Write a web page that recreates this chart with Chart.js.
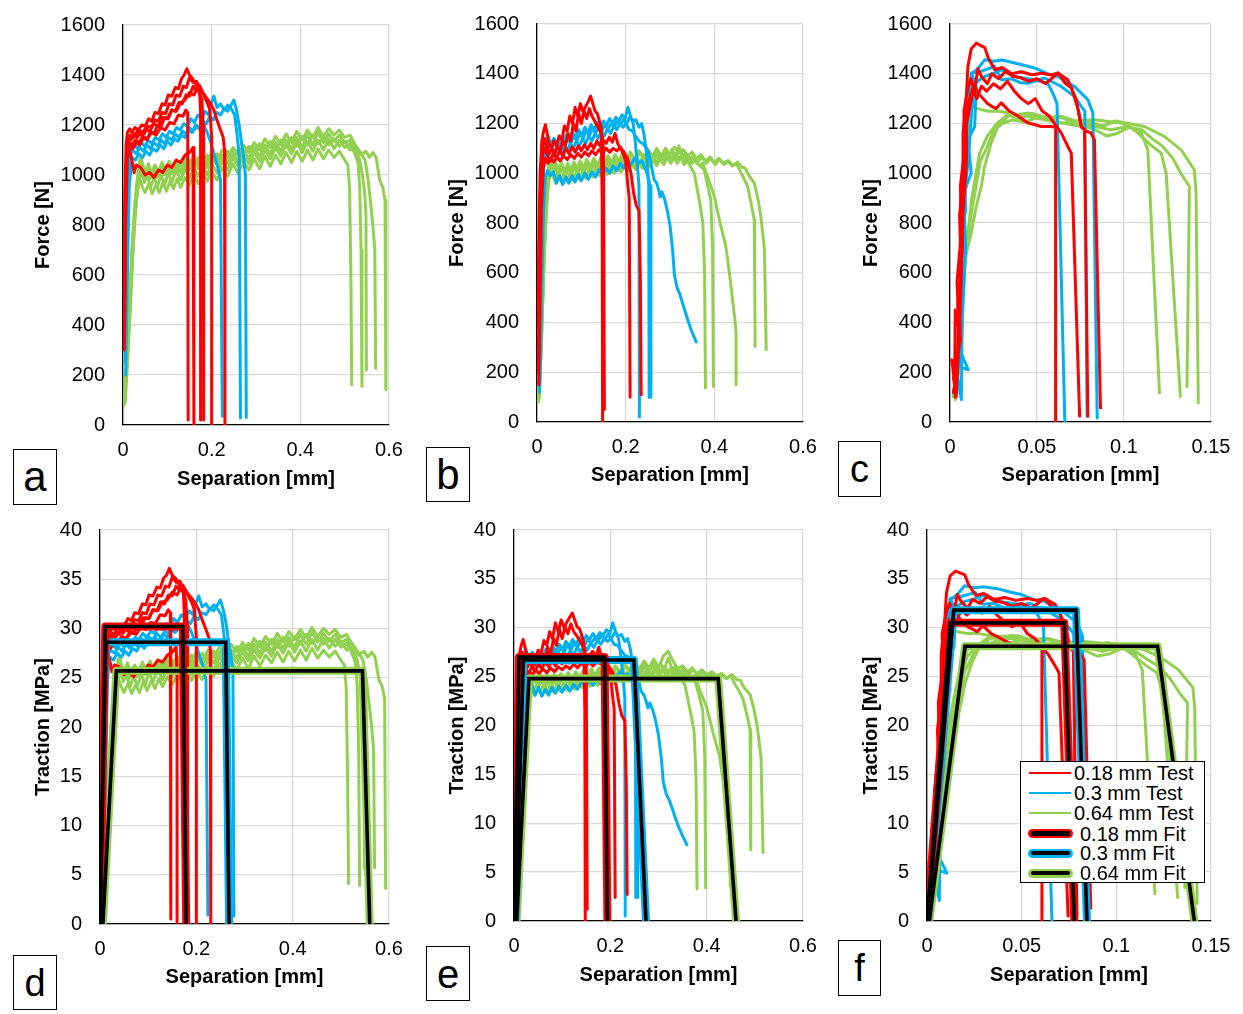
<!DOCTYPE html>
<html>
<head>
<meta charset="utf-8">
<script src="https://cdn.jsdelivr.net/npm/chart.js@4/dist/chart.umd.min.js"></script>
<style>
  html, body { margin: 0; padding: 0; background: #fff; }
  body { position: relative; width: 1243px; height: 1014px; overflow: hidden;
         font-family: "Liberation Sans", Arial, sans-serif; }
  canvas { position: absolute; }
  .tag { position: absolute; box-sizing: border-box; border: 1.3px solid #000; background: #fff;
         display: flex; align-items: center; justify-content: center; color: #000; line-height: 1; }
  .legend { position: absolute; box-sizing: border-box; border: 1.2px solid #000; background: #fff; z-index: 5; }
  .legend .row { position: absolute; left: 0; right: 0; height: 20px; }
  .legend .txt { position: absolute; font-size: 20px; line-height: 20px; top: 0; color: #000; white-space: nowrap; }
  .legend .thin { position: absolute; left: 8px; width: 42px; height: 2.6px; top: 8.7px; }
  .legend .thick { position: absolute; left: 7px; width: 45px; height: 9px; top: 5.5px; border-radius: 4.5px; }
  .legend .core { position: absolute; left: 3px; right: 3px; top: 2.4px; height: 4.2px; background: #000; border-radius: 2px; }
</style>
</head>
<body>
<script>
// ---------- axis ticks ----------
const sepTicksWide = [0, 0.2, 0.4, 0.6];
const sepTicksNarrow = [0, 0.05, 0.1, 0.15];
const forceTicks = [0, 200, 400, 600, 800, 1000, 1200, 1400, 1600];
const tractionTicks = [0, 5, 10, 15, 20, 25, 30, 35, 40];

// ---------- series ----------
const seriesLabels = ['0.18 mm Test', '0.3 mm Test', '0.64 mm Test', '0.18 mm Fit', '0.3 mm Fit', '0.64 mm Fit'];
const seriesColors = ['#FF0000', '#00B0F0', '#92D050'];

// each curve: [separation, value, separation, value, ...]

// (a) force, 0.18 mm
const aRed = [
  [0.002,500, 0.004,900, 0.007,1120, 0.01,1170, 0.015,1185, 0.02,1170, 0.027,1190, 0.035,1180, 0.042,1200, 0.05,1195, 0.058,1225, 0.065,1215, 0.072,1250, 0.08,1245, 0.088,1285, 0.095,1280, 0.102,1320, 0.11,1315, 0.118,1350, 0.125,1345, 0.132,1385, 0.138,1400, 0.144,1425, 0.15,1400, 0.157,1385, 0.165,1360, 0.172,1330, 0.178,1300, 0.181,1200, 0.182,20],
  [0.003,400, 0.005,850, 0.008,1100, 0.012,1150, 0.018,1140, 0.025,1165, 0.032,1150, 0.04,1175, 0.048,1165, 0.056,1195, 0.064,1190, 0.072,1220, 0.08,1215, 0.088,1250, 0.096,1245, 0.104,1285, 0.112,1280, 0.12,1320, 0.128,1315, 0.136,1355, 0.143,1350, 0.15,1390, 0.158,1370, 0.166,1375, 0.174,1340, 0.182,1320, 0.19,1290, 0.196,1260, 0.2,1150, 0.2,0],
  [0.003,300, 0.006,800, 0.01,1080, 0.015,1120, 0.022,1105, 0.03,1130, 0.038,1120, 0.046,1150, 0.054,1140, 0.062,1175, 0.07,1165, 0.078,1200, 0.086,1195, 0.094,1230, 0.102,1225, 0.11,1260, 0.118,1255, 0.126,1290, 0.134,1285, 0.142,1320, 0.15,1315, 0.158,1355, 0.165,1340, 0.172,1360, 0.18,1330, 0.188,1310, 0.196,1290, 0.205,1260, 0.212,1220, 0.22,1180, 0.226,1150, 0.229,1100, 0.23,0],
  [0.003,600, 0.006,1000, 0.01,1120, 0.015,1100, 0.02,1060, 0.025,1010, 0.03,1040, 0.04,1030, 0.05,1000, 0.06,1010, 0.07,990, 0.08,1020, 0.09,1010, 0.1,1040, 0.11,1030, 0.12,1060, 0.13,1050, 0.14,1080, 0.15,1090, 0.158,1110, 0.16,1000, 0.16,0],
  [0.003,450, 0.006,950, 0.01,1140, 0.016,1160, 0.024,1150, 0.032,1175, 0.04,1160, 0.05,1185, 0.06,1175, 0.07,1205, 0.08,1195, 0.09,1230, 0.1,1225, 0.11,1260, 0.12,1255, 0.13,1290, 0.14,1300, 0.15,1330, 0.16,1320, 0.168,1350, 0.173,1330, 0.175,1250, 0.175,20],
  [0.003,350, 0.005,800, 0.009,1090, 0.014,1130, 0.02,1120, 0.028,1140, 0.036,1130, 0.045,1155, 0.055,1145, 0.065,1170, 0.075,1160, 0.085,1190, 0.095,1180, 0.105,1210, 0.115,1205, 0.125,1240, 0.135,1235, 0.142,1260, 0.146,1250, 0.147,20]
];
const aBlue = [
  [0.004,300, 0.008,750, 0.012,1000, 0.016,1080, 0.022,1100, 0.03,1085, 0.038,1110, 0.046,1095, 0.054,1120, 0.062,1105, 0.07,1130, 0.078,1115, 0.086,1140, 0.094,1125, 0.102,1150, 0.11,1140, 0.118,1165, 0.126,1150, 0.134,1175, 0.142,1165, 0.15,1190, 0.158,1175, 0.166,1195, 0.174,1180, 0.182,1200, 0.19,1170, 0.198,1130, 0.206,1080, 0.214,1030, 0.22,980, 0.224,35],
  [0.005,250, 0.009,700, 0.013,1020, 0.018,1110, 0.025,1120, 0.033,1105, 0.041,1130, 0.049,1115, 0.057,1140, 0.065,1125, 0.073,1150, 0.081,1140, 0.089,1165, 0.097,1150, 0.105,1175, 0.113,1165, 0.121,1190, 0.129,1180, 0.137,1205, 0.145,1195, 0.153,1225, 0.161,1210, 0.169,1240, 0.177,1225, 0.185,1255, 0.193,1240, 0.2,1290, 0.205,1315, 0.212,1270, 0.22,1285, 0.228,1260, 0.236,1280, 0.244,1265, 0.252,1240, 0.258,1150, 0.262,1080, 0.265,28],
  [0.006,200, 0.01,600, 0.014,950, 0.02,1070, 0.028,1060, 0.036,1085, 0.044,1070, 0.052,1095, 0.06,1080, 0.068,1105, 0.076,1095, 0.084,1120, 0.092,1105, 0.1,1135, 0.108,1120, 0.116,1145, 0.124,1135, 0.132,1160, 0.14,1150, 0.148,1180, 0.156,1170, 0.164,1200, 0.172,1190, 0.18,1215, 0.188,1205, 0.196,1235, 0.204,1220, 0.212,1250, 0.22,1240, 0.228,1265, 0.236,1255, 0.244,1280, 0.25,1300, 0.256,1260, 0.262,1200, 0.268,1120, 0.273,1060, 0.276,1000, 0.278,30]
];
const aGreen = [
  [0.002,80, 0.006,160, 0.01,260, 0.014,380, 0.018,520, 0.022,680, 0.027,830, 0.032,930, 0.038,985, 0.044,950, 0.05,930, 0.058,965, 0.066,925, 0.074,960, 0.082,930, 0.09,970, 0.098,935, 0.106,975, 0.114,945, 0.122,985, 0.13,950, 0.14,990, 0.15,960, 0.16,1000, 0.17,965, 0.18,1010, 0.19,975, 0.2,1015, 0.212,980, 0.224,1030, 0.236,995, 0.248,1045, 0.26,1005, 0.272,1055, 0.284,1020, 0.296,1065, 0.308,1025, 0.32,1075, 0.332,1035, 0.344,1080, 0.356,1045, 0.368,1090, 0.38,1050, 0.392,1095, 0.404,1055, 0.416,1100, 0.428,1060, 0.44,1105, 0.452,1065, 0.464,1100, 0.476,1070, 0.488,1095, 0.5,1060, 0.507,1040, 0.511,950, 0.514,600, 0.516,160],
  [0.003,90, 0.007,200, 0.011,330, 0.015,470, 0.019,620, 0.023,770, 0.028,900, 0.033,990, 0.038,1060, 0.043,1020, 0.048,970, 0.055,1000, 0.062,950, 0.07,990, 0.078,955, 0.086,1000, 0.094,960, 0.102,1010, 0.11,970, 0.12,1020, 0.13,980, 0.14,1025, 0.15,990, 0.16,1030, 0.17,995, 0.18,1040, 0.19,1000, 0.2,1045, 0.212,1010, 0.224,1055, 0.236,1020, 0.248,1070, 0.26,1035, 0.272,1080, 0.284,1045, 0.296,1090, 0.308,1055, 0.32,1100, 0.332,1065, 0.344,1110, 0.356,1075, 0.368,1120, 0.38,1085, 0.392,1130, 0.404,1090, 0.416,1135, 0.428,1095, 0.44,1140, 0.452,1100, 0.464,1145, 0.476,1105, 0.488,1140, 0.5,1110, 0.512,1125, 0.522,1090, 0.53,1050, 0.534,950, 0.537,700, 0.539,155],
  [0.004,100, 0.008,230, 0.012,380, 0.016,540, 0.02,700, 0.025,840, 0.03,950, 0.035,1020, 0.04,1075, 0.046,1030, 0.052,1000, 0.059,1035, 0.066,990, 0.074,1030, 0.082,995, 0.09,1035, 0.098,1000, 0.106,1040, 0.114,1005, 0.122,1045, 0.13,1010, 0.14,1050, 0.15,1020, 0.16,1060, 0.17,1025, 0.18,1065, 0.19,1030, 0.2,1070, 0.212,1040, 0.224,1080, 0.236,1045, 0.248,1090, 0.26,1055, 0.272,1100, 0.284,1065, 0.296,1110, 0.308,1075, 0.32,1120, 0.332,1085, 0.344,1130, 0.356,1095, 0.368,1140, 0.38,1105, 0.392,1150, 0.404,1110, 0.416,1160, 0.428,1120, 0.44,1170, 0.452,1130, 0.464,1165, 0.476,1135, 0.488,1160, 0.5,1130, 0.512,1140, 0.524,1100, 0.534,1060, 0.54,1000, 0.545,930, 0.548,850, 0.549,220],
  [0.005,90, 0.009,210, 0.013,360, 0.017,520, 0.022,690, 0.027,830, 0.032,930, 0.038,990, 0.044,1040, 0.05,1010, 0.057,1045, 0.064,1005, 0.072,1040, 0.08,1010, 0.088,1050, 0.096,1015, 0.104,1055, 0.112,1020, 0.12,1060, 0.13,1030, 0.14,1070, 0.15,1035, 0.16,1075, 0.17,1045, 0.18,1085, 0.19,1050, 0.2,1090, 0.212,1060, 0.224,1100, 0.236,1070, 0.248,1110, 0.26,1080, 0.272,1120, 0.284,1090, 0.296,1130, 0.308,1100, 0.32,1145, 0.332,1110, 0.344,1155, 0.356,1120, 0.368,1165, 0.38,1130, 0.392,1175, 0.404,1140, 0.416,1180, 0.428,1150, 0.44,1190, 0.452,1155, 0.464,1185, 0.476,1160, 0.488,1180, 0.5,1150, 0.512,1160, 0.524,1120, 0.536,1090, 0.546,1060, 0.553,980, 0.559,880, 0.564,790, 0.568,700, 0.57,227],
  [0.003,80, 0.006,180, 0.01,300, 0.014,440, 0.018,590, 0.023,740, 0.028,870, 0.034,960, 0.04,1010, 0.046,990, 0.053,1020, 0.06,985, 0.068,1025, 0.076,990, 0.084,1030, 0.092,1000, 0.1,1040, 0.108,1005, 0.116,1045, 0.124,1015, 0.132,1055, 0.14,1020, 0.15,1060, 0.16,1030, 0.17,1070, 0.18,1040, 0.19,1080, 0.2,1045, 0.212,1085, 0.224,1055, 0.236,1095, 0.248,1065, 0.26,1105, 0.272,1075, 0.284,1115, 0.296,1085, 0.308,1125, 0.32,1095, 0.332,1135, 0.344,1100, 0.356,1140, 0.368,1110, 0.38,1150, 0.392,1115, 0.404,1155, 0.416,1120, 0.428,1160, 0.44,1125, 0.452,1150, 0.464,1120, 0.476,1145, 0.488,1115, 0.5,1135, 0.512,1100, 0.524,1110, 0.536,1080, 0.548,1095, 0.556,1070, 0.564,1090, 0.571,1070, 0.579,980, 0.586,950, 0.591,900, 0.593,141]
];

// (b) force, 0.3 mm
const bRed = [
  [0.002,300, 0.004,700, 0.007,1000, 0.011,1130, 0.015,1170, 0.019,1195, 0.023,1160, 0.027,1120, 0.032,1100, 0.038,1130, 0.044,1110, 0.05,1150, 0.056,1135, 0.062,1190, 0.068,1170, 0.074,1230, 0.08,1200, 0.086,1265, 0.092,1230, 0.098,1280, 0.104,1245, 0.11,1270, 0.116,1290, 0.121,1310, 0.126,1280, 0.131,1250, 0.136,1240, 0.141,1210, 0.145,1180, 0.147,900, 0.148,0],
  [0.003,250, 0.005,650, 0.008,980, 0.012,1100, 0.017,1140, 0.022,1110, 0.028,1080, 0.034,1100, 0.04,1080, 0.046,1110, 0.052,1090, 0.058,1130, 0.064,1110, 0.07,1160, 0.076,1130, 0.082,1200, 0.088,1170, 0.094,1240, 0.1,1200, 0.106,1250, 0.112,1220, 0.118,1260, 0.124,1230, 0.13,1210, 0.136,1190, 0.142,1170, 0.147,1150, 0.15,1100, 0.152,50],
  [0.003,200, 0.006,600, 0.009,950, 0.013,1080, 0.018,1100, 0.024,1070, 0.03,1050, 0.037,1080, 0.044,1060, 0.051,1090, 0.058,1070, 0.065,1100, 0.072,1080, 0.079,1105, 0.086,1085, 0.093,1110, 0.1,1090, 0.107,1115, 0.114,1095, 0.121,1120, 0.128,1100, 0.135,1130, 0.142,1110, 0.149,1135, 0.156,1120, 0.163,1145, 0.17,1125, 0.176,1160, 0.182,1120, 0.188,1100, 0.194,1080, 0.2,1050, 0.205,950, 0.208,900, 0.21,100],
  [0.004,150, 0.007,500, 0.01,850, 0.014,1020, 0.019,1060, 0.025,1040, 0.031,1060, 0.038,1045, 0.045,1065, 0.052,1050, 0.06,1070, 0.068,1055, 0.076,1075, 0.084,1060, 0.092,1080, 0.1,1065, 0.108,1085, 0.116,1070, 0.124,1090, 0.132,1075, 0.14,1095, 0.148,1080, 0.156,1100, 0.164,1085, 0.172,1100, 0.18,1090, 0.188,1105, 0.196,1085, 0.204,1060, 0.212,1000, 0.218,920, 0.224,870, 0.23,850, 0.233,600, 0.235,110]
];
const bBlue = [
  [0.004,200, 0.007,600, 0.01,900, 0.014,1080, 0.019,1120, 0.025,1150, 0.031,1115, 0.038,1140, 0.045,1120, 0.052,1145, 0.059,1125, 0.066,1155, 0.073,1135, 0.08,1165, 0.087,1145, 0.094,1175, 0.101,1155, 0.108,1185, 0.115,1165, 0.122,1195, 0.129,1175, 0.136,1205, 0.143,1185, 0.15,1210, 0.157,1195, 0.164,1220, 0.171,1200, 0.178,1225, 0.185,1210, 0.192,1235, 0.199,1220, 0.205,1265, 0.211,1230, 0.217,1200, 0.222,1120, 0.227,1020, 0.23,950, 0.231,20],
  [0.005,150, 0.008,500, 0.012,850, 0.016,1040, 0.022,1100, 0.028,1130, 0.034,1100, 0.041,1125, 0.048,1105, 0.055,1130, 0.062,1110, 0.069,1140, 0.076,1120, 0.083,1150, 0.09,1130, 0.097,1160, 0.104,1140, 0.111,1170, 0.118,1150, 0.125,1180, 0.132,1160, 0.139,1185, 0.146,1170, 0.153,1195, 0.16,1180, 0.167,1200, 0.174,1185, 0.181,1210, 0.188,1195, 0.195,1215, 0.202,1200, 0.209,1225, 0.216,1210, 0.223,1215, 0.23,1185, 0.236,1200, 0.242,1150, 0.247,1080, 0.25,1000, 0.252,950, 0.253,100],
  [0.006,120, 0.01,450, 0.014,800, 0.018,980, 0.024,1010, 0.03,990, 0.037,1005, 0.044,960, 0.051,990, 0.058,955, 0.065,985, 0.072,960, 0.079,990, 0.086,965, 0.093,995, 0.1,970, 0.108,1000, 0.116,975, 0.124,1005, 0.132,985, 0.14,1015, 0.148,995, 0.156,1020, 0.164,1000, 0.172,1030, 0.18,1010, 0.188,1040, 0.196,1020, 0.204,1050, 0.212,1035, 0.22,1060, 0.228,1040, 0.236,1050, 0.244,1020, 0.25,990, 0.255,950, 0.257,100],
  [0.005,180, 0.008,550, 0.011,880, 0.015,1050, 0.02,1090, 0.026,1070, 0.033,1095, 0.04,1075, 0.047,1100, 0.054,1080, 0.061,1110, 0.068,1090, 0.075,1120, 0.082,1100, 0.089,1130, 0.096,1110, 0.103,1140, 0.11,1120, 0.117,1150, 0.124,1130, 0.131,1160, 0.138,1140, 0.145,1170, 0.152,1150, 0.159,1180, 0.166,1160, 0.173,1190, 0.18,1175, 0.187,1200, 0.194,1185, 0.201,1200, 0.208,1175, 0.215,1170, 0.222,1150, 0.23,1130, 0.238,1120, 0.246,1105, 0.252,1080, 0.258,1030, 0.264,975, 0.27,960, 0.275,930, 0.278,905, 0.282,925, 0.288,895, 0.294,850, 0.3,790, 0.306,690, 0.31,590, 0.316,540, 0.322,515, 0.328,480, 0.334,445, 0.342,400, 0.35,360, 0.359,322]
];
const bGreen = [
  [0.003,80, 0.008,250, 0.012,450, 0.016,650, 0.02,820, 0.025,950, 0.03,1000, 0.036,990, 0.042,960, 0.048,995, 0.055,965, 0.062,1000, 0.069,970, 0.076,1005, 0.083,975, 0.09,1010, 0.097,980, 0.104,1015, 0.111,985, 0.118,1020, 0.125,990, 0.132,1025, 0.14,995, 0.148,1030, 0.156,1000, 0.164,1035, 0.172,1005, 0.18,1040, 0.188,1010, 0.196,1045, 0.204,1015, 0.212,1050, 0.22,1020, 0.228,1055, 0.236,1025, 0.244,1060, 0.252,1030, 0.26,1065, 0.268,1035, 0.276,1070, 0.284,1040, 0.292,1075, 0.3,1045, 0.308,1070, 0.316,1040, 0.324,1065, 0.332,1035, 0.34,1050, 0.348,1020, 0.355,1000, 0.362,930, 0.368,870, 0.374,800, 0.378,600, 0.38,137],
  [0.004,90, 0.009,280, 0.013,500, 0.017,720, 0.022,900, 0.027,1000, 0.032,1040, 0.037,1000, 0.043,1030, 0.05,990, 0.057,1025, 0.064,985, 0.071,1020, 0.078,990, 0.085,1025, 0.092,995, 0.099,1030, 0.106,1000, 0.113,1035, 0.12,1005, 0.128,1040, 0.136,1010, 0.144,1045, 0.152,1015, 0.16,1050, 0.168,1020, 0.176,1055, 0.184,1025, 0.192,1060, 0.2,1030, 0.208,1065, 0.216,1035, 0.224,1070, 0.232,1040, 0.24,1075, 0.248,1045, 0.256,1080, 0.264,1050, 0.272,1085, 0.28,1055, 0.288,1090, 0.296,1060, 0.304,1095, 0.312,1065, 0.32,1110, 0.328,1070, 0.336,1080, 0.344,1050, 0.352,1065, 0.36,1040, 0.368,1030, 0.377,1014, 0.385,950, 0.392,894, 0.396,700, 0.398,143],
  [0.005,100, 0.01,320, 0.014,560, 0.018,780, 0.023,940, 0.028,1020, 0.034,1000, 0.04,975, 0.047,1005, 0.054,970, 0.061,1000, 0.068,965, 0.075,995, 0.082,970, 0.089,1000, 0.096,975, 0.103,1005, 0.11,980, 0.118,1010, 0.126,985, 0.134,1015, 0.142,990, 0.15,1020, 0.158,995, 0.166,1025, 0.174,1000, 0.182,1030, 0.19,1005, 0.198,1035, 0.206,1010, 0.214,1040, 0.222,1015, 0.23,1045, 0.238,1020, 0.246,1050, 0.254,1025, 0.262,1055, 0.27,1030, 0.278,1060, 0.286,1035, 0.294,1065, 0.302,1040, 0.31,1070, 0.318,1045, 0.326,1075, 0.334,1045, 0.342,1070, 0.35,1040, 0.358,1060, 0.366,1030, 0.374,1040, 0.382,1000, 0.39,960, 0.4,907, 0.413,800, 0.426,706, 0.434,600, 0.441,492, 0.446,420, 0.449,358, 0.449,150],
  [0.003,90, 0.007,260, 0.011,480, 0.015,700, 0.019,880, 0.024,1000, 0.029,1060, 0.035,1020, 0.041,1050, 0.048,1010, 0.055,1045, 0.062,1005, 0.069,1040, 0.076,1010, 0.083,1045, 0.09,1015, 0.097,1050, 0.104,1020, 0.112,1055, 0.12,1025, 0.128,1060, 0.136,1030, 0.144,1065, 0.152,1035, 0.16,1070, 0.168,1040, 0.176,1075, 0.184,1045, 0.192,1080, 0.2,1050, 0.21,1085, 0.22,1055, 0.23,1090, 0.24,1060, 0.25,1095, 0.26,1065, 0.27,1100, 0.28,1070, 0.29,1100, 0.3,1075, 0.31,1105, 0.32,1080, 0.33,1095, 0.34,1070, 0.35,1085, 0.36,1060, 0.37,1075, 0.38,1050, 0.39,1065, 0.4,1045, 0.41,1060, 0.42,1040, 0.43,1050, 0.44,1030, 0.45,1040, 0.458,1010, 0.464,988, 0.475,947, 0.483,880, 0.49,813, 0.491,600, 0.492,304],
  [0.004,85, 0.008,240, 0.012,440, 0.016,660, 0.021,850, 0.026,980, 0.031,1030, 0.037,1000, 0.043,1035, 0.05,995, 0.057,1030, 0.064,1000, 0.071,1035, 0.078,1005, 0.085,1040, 0.092,1010, 0.099,1045, 0.106,1015, 0.114,1050, 0.122,1020, 0.13,1055, 0.138,1025, 0.146,1060, 0.154,1030, 0.162,1065, 0.17,1035, 0.178,1070, 0.186,1040, 0.194,1075, 0.202,1045, 0.212,1080, 0.222,1050, 0.232,1085, 0.242,1055, 0.252,1090, 0.262,1060, 0.272,1090, 0.282,1065, 0.292,1085, 0.302,1060, 0.312,1080, 0.322,1055, 0.332,1075, 0.342,1050, 0.352,1070, 0.362,1045, 0.372,1065, 0.382,1040, 0.392,1060, 0.402,1035, 0.412,1055, 0.422,1035, 0.432,1050, 0.442,1030, 0.452,1045, 0.462,1025, 0.47,1020, 0.475,1001, 0.482,980, 0.49,961, 0.498,900, 0.505,827, 0.513,693, 0.515,500, 0.517,291]
];

// (c) force, 0.64 mm
const cRed = [
  [0.001,250, 0.0027,157, 0.003,450, 0.0055,360, 0.0065,600, 0.0055,830, 0.0078,1000, 0.0075,1160, 0.0094,1310, 0.0103,1430, 0.0122,1500, 0.0151,1523, 0.02,1505, 0.022,1463, 0.0258,1416, 0.03,1425, 0.0354,1400, 0.041,1408, 0.0469,1396, 0.053,1402, 0.058,1395, 0.0622,1403, 0.066,1363, 0.0699,1343, 0.0737,1255, 0.0756,1185, 0.0773,1175, 0.0792,23],
  [0.002,120, 0.004,200, 0.005,420, 0.004,560, 0.0065,760, 0.006,950, 0.0085,1100, 0.008,1250, 0.0105,1350, 0.012,1380, 0.014,1330, 0.016,1420, 0.018,1390, 0.0215,1360, 0.024,1400, 0.028,1380, 0.032,1410, 0.036,1390, 0.04,1385, 0.045,1370, 0.05,1380, 0.055,1360, 0.062,1403, 0.0677,1376, 0.0725,1296, 0.0754,1188, 0.078,1170, 0.081,1162, 0.083,1135, 0.0865,56],
  [0.003,100, 0.004,250, 0.006,330, 0.005,500, 0.007,700, 0.0065,880, 0.009,1000, 0.0085,1150, 0.0105,1280, 0.013,1340, 0.0155,1300, 0.018,1350, 0.021,1330, 0.025,1360, 0.029,1340, 0.033,1370, 0.037,1330, 0.041,1300, 0.045,1280, 0.049,1300, 0.053,1250, 0.057,1230, 0.0639,1162, 0.0677,1108, 0.0697,1081, 0.0745,23],
  [0.002,180, 0.0035,100, 0.005,300, 0.0045,470, 0.0065,620, 0.0075,850, 0.0095,1050, 0.0095,1200, 0.012,1290, 0.014,1350, 0.0165,1320, 0.019,1300, 0.0215,1280, 0.0237,1270, 0.0265,1260, 0.0295,1283, 0.034,1250, 0.039,1230, 0.0448,1202, 0.049,1195, 0.0524,1188, 0.058,1188, 0.0607,1185, 0.0607,3]
];
const cBlue = [
  [0.002,117, 0.004,200, 0.0065,90, 0.007,400, 0.0084,626, 0.0065,867, 0.0095,950, 0.0122,1001, 0.0103,1135, 0.0142,1188, 0.0151,1349, 0.0125,1400, 0.016,1420, 0.0199,1456, 0.025,1450, 0.03,1455, 0.0371,1443, 0.0448,1430, 0.05,1420, 0.056,1400, 0.062,1389, 0.0715,1349, 0.0792,1296, 0.0821,1242, 0.0846,16],
  [0.003,130, 0.005,300, 0.0105,210, 0.006,220, 0.0075,500, 0.009,700, 0.008,900, 0.0105,1050, 0.0095,1150, 0.011,1300, 0.0122,1403, 0.018,1410, 0.0256,1430, 0.0295,1376, 0.035,1380, 0.04,1365, 0.0448,1362, 0.0543,1383, 0.0639,1349, 0.0715,1309, 0.0754,1269, 0.0775,1250, 0.0788,23],
  [0.004,150, 0.006,350, 0.0075,600, 0.0065,750, 0.009,850, 0.0085,1000, 0.011,1100, 0.0125,1250, 0.0142,1362, 0.0199,1389, 0.0245,1400, 0.0295,1416, 0.037,1389, 0.0486,1376, 0.0562,1362, 0.0591,1322, 0.0615,1280, 0.066,0]
];
const cGreen = [
  [0.0017,103, 0.0046,224, 0.0055,358, 0.0065,559, 0.0075,760, 0.0065,894, 0.0084,1028, 0.0103,1162, 0.0113,1349, 0.0125,1335, 0.0113,1269, 0.016,1260, 0.0218,1249, 0.0275,1250, 0.0333,1242, 0.039,1236, 0.0448,1229, 0.054,1215, 0.0639,1202, 0.072,1205, 0.083,1188, 0.0926,1175, 0.102,1188, 0.11,1162, 0.1137,1094, 0.1204,117],
  [0.0027,103, 0.0055,224, 0.0065,492, 0.0094,680, 0.0122,760, 0.0151,867, 0.018,947, 0.0199,1028, 0.0237,1122, 0.0276,1188, 0.0333,1229, 0.0448,1242, 0.055,1225, 0.0639,1229, 0.072,1210, 0.083,1215, 0.0984,1202, 0.105,1180, 0.11,1148, 0.116,1110, 0.1214,1081, 0.1232,1028, 0.1242,1001, 0.1324,103],
  [0.003,90, 0.0045,250, 0.0055,400, 0.007,560, 0.0085,700, 0.011,800, 0.0125,900, 0.0145,980, 0.017,1080, 0.0215,1150, 0.027,1200, 0.033,1235, 0.04,1220, 0.048,1240, 0.056,1215, 0.064,1225, 0.072,1200, 0.08,1205, 0.088,1190, 0.095,1210, 0.1025,1200, 0.1117,1188, 0.1232,1148, 0.1328,1094, 0.1404,1014, 0.1414,927, 0.1427,76],
  [0.004,110, 0.005,300, 0.0065,450, 0.008,620, 0.01,720, 0.0125,850, 0.015,950, 0.0175,1050, 0.021,1100, 0.025,1170, 0.03,1200, 0.036,1215, 0.043,1205, 0.05,1225, 0.058,1210, 0.066,1200, 0.074,1190, 0.082,1180, 0.09,1150, 0.096,1160, 0.103,1185, 0.11,1175, 0.116,1140, 0.122,1110, 0.128,1060, 0.1335,990, 0.1376,947, 0.1362,143]
];

// (d) traction, 0.18 mm
const dRed = [
  [0.002,12.7, 0.004,22.8, 0.007,28.4, 0.01,29.6, 0.015,30.0, 0.02,29.6, 0.027,30.1, 0.035,29.9, 0.042,30.4, 0.05,30.3, 0.058,31.0, 0.065,30.8, 0.072,31.6, 0.08,31.5, 0.088,32.5, 0.095,32.4, 0.102,33.4, 0.11,33.3, 0.118,34.2, 0.125,34.1, 0.132,35.1, 0.138,35.4, 0.144,36.1, 0.15,35.4, 0.157,35.1, 0.165,34.4, 0.172,33.7, 0.178,32.9, 0.181,30.4, 0.182,0.5],
  [0.003,10.1, 0.005,21.5, 0.008,27.8, 0.012,29.1, 0.018,28.9, 0.025,29.5, 0.032,29.1, 0.04,29.7, 0.048,29.5, 0.056,30.3, 0.064,30.1, 0.072,30.9, 0.08,30.8, 0.088,31.6, 0.096,31.5, 0.104,32.5, 0.112,32.4, 0.12,33.4, 0.128,33.3, 0.136,34.3, 0.143,34.2, 0.15,35.2, 0.158,34.7, 0.166,34.8, 0.174,33.9, 0.182,33.4, 0.19,32.7, 0.196,31.9, 0.2,29.1, 0.2,0],
  [0.003,7.6, 0.006,20.3, 0.01,27.3, 0.015,28.4, 0.022,28.0, 0.03,28.6, 0.038,28.4, 0.046,29.1, 0.054,28.9, 0.062,29.7, 0.07,29.5, 0.078,30.4, 0.086,30.3, 0.094,31.1, 0.102,31.0, 0.11,31.9, 0.118,31.8, 0.126,32.7, 0.134,32.5, 0.142,33.4, 0.15,33.3, 0.158,34.3, 0.165,33.9, 0.172,34.4, 0.18,33.7, 0.188,33.2, 0.196,32.7, 0.205,31.9, 0.212,30.9, 0.22,29.9, 0.226,29.1, 0.229,27.8, 0.23,0],
  [0.003,15.2, 0.006,25.3, 0.01,28.4, 0.015,27.8, 0.02,26.8, 0.025,25.6, 0.03,26.3, 0.04,26.1, 0.05,25.3, 0.06,25.6, 0.07,25.1, 0.08,25.8, 0.09,25.6, 0.1,26.3, 0.11,26.1, 0.12,26.8, 0.13,26.6, 0.14,27.3, 0.15,27.6, 0.158,28.1, 0.16,25.3, 0.16,0],
  [0.003,11.4, 0.006,24.1, 0.01,28.9, 0.016,29.4, 0.024,29.1, 0.032,29.7, 0.04,29.4, 0.05,30.0, 0.06,29.7, 0.07,30.5, 0.08,30.3, 0.09,31.1, 0.1,31.0, 0.11,31.9, 0.12,31.8, 0.13,32.7, 0.14,32.9, 0.15,33.7, 0.16,33.4, 0.168,34.2, 0.173,33.7, 0.175,31.6, 0.175,0.5],
  [0.003,8.9, 0.005,20.3, 0.009,27.6, 0.014,28.6, 0.02,28.4, 0.028,28.9, 0.036,28.6, 0.045,29.2, 0.055,29.0, 0.065,29.6, 0.075,29.4, 0.085,30.1, 0.095,29.9, 0.105,30.6, 0.115,30.5, 0.125,31.4, 0.135,31.3, 0.142,31.9, 0.146,31.6, 0.147,0.5]
];
const dBlue = [
  [0.004,7.6, 0.008,19.0, 0.012,25.3, 0.016,27.3, 0.022,27.8, 0.03,27.5, 0.038,28.1, 0.046,27.7, 0.054,28.4, 0.062,28.0, 0.07,28.6, 0.078,28.2, 0.086,28.9, 0.094,28.5, 0.102,29.1, 0.11,28.9, 0.118,29.5, 0.126,29.1, 0.134,29.7, 0.142,29.5, 0.15,30.1, 0.158,29.7, 0.166,30.3, 0.174,29.9, 0.182,30.4, 0.19,29.6, 0.198,28.6, 0.206,27.3, 0.214,26.1, 0.22,24.8, 0.224,0.9],
  [0.005,6.3, 0.009,17.7, 0.013,25.8, 0.018,28.1, 0.025,28.4, 0.033,28.0, 0.041,28.6, 0.049,28.2, 0.057,28.9, 0.065,28.5, 0.073,29.1, 0.081,28.9, 0.089,29.5, 0.097,29.1, 0.105,29.7, 0.113,29.5, 0.121,30.1, 0.129,29.9, 0.137,30.5, 0.145,30.3, 0.153,31.0, 0.161,30.6, 0.169,31.4, 0.177,31.0, 0.185,31.8, 0.193,31.4, 0.2,32.7, 0.205,33.3, 0.212,32.2, 0.22,32.5, 0.228,31.9, 0.236,32.4, 0.244,32.0, 0.252,31.4, 0.258,29.1, 0.262,27.3, 0.265,0.7],
  [0.006,5.1, 0.01,15.2, 0.014,24.1, 0.02,27.1, 0.028,26.8, 0.036,27.5, 0.044,27.1, 0.052,27.7, 0.06,27.3, 0.068,28.0, 0.076,27.7, 0.084,28.4, 0.092,28.0, 0.1,28.7, 0.108,28.4, 0.116,29.0, 0.124,28.7, 0.132,29.4, 0.14,29.1, 0.148,29.9, 0.156,29.6, 0.164,30.4, 0.172,30.1, 0.18,30.8, 0.188,30.5, 0.196,31.3, 0.204,30.9, 0.212,31.6, 0.22,31.4, 0.228,32.0, 0.236,31.8, 0.244,32.4, 0.25,32.9, 0.256,31.9, 0.262,30.4, 0.268,28.4, 0.273,26.8, 0.276,25.3, 0.278,0.8]
];
const dGreen = [
  [0.002,2.0, 0.006,4.1, 0.01,6.6, 0.014,9.6, 0.018,13.2, 0.022,17.2, 0.027,21.0, 0.032,23.5, 0.038,24.9, 0.044,24.1, 0.05,23.5, 0.058,24.4, 0.066,23.4, 0.074,24.3, 0.082,23.5, 0.09,24.6, 0.098,23.7, 0.106,24.7, 0.114,23.9, 0.122,24.9, 0.13,24.1, 0.14,25.1, 0.15,24.3, 0.16,25.3, 0.17,24.4, 0.18,25.6, 0.19,24.7, 0.2,25.7, 0.212,24.8, 0.224,26.1, 0.236,25.2, 0.248,26.5, 0.26,25.4, 0.272,26.7, 0.284,25.8, 0.296,27.0, 0.308,25.9, 0.32,27.2, 0.332,26.2, 0.344,27.3, 0.356,26.5, 0.368,27.6, 0.38,26.6, 0.392,27.7, 0.404,26.7, 0.416,27.8, 0.428,26.8, 0.44,28.0, 0.452,27.0, 0.464,27.8, 0.476,27.1, 0.488,27.7, 0.5,26.8, 0.507,26.3, 0.511,24.1, 0.514,15.2, 0.516,4.1],
  [0.003,2.3, 0.007,5.1, 0.011,8.4, 0.015,11.9, 0.019,15.7, 0.023,19.5, 0.028,22.8, 0.033,25.1, 0.038,26.8, 0.043,25.8, 0.048,24.6, 0.055,25.3, 0.062,24.1, 0.07,25.1, 0.078,24.2, 0.086,25.3, 0.094,24.3, 0.102,25.6, 0.11,24.6, 0.12,25.8, 0.13,24.8, 0.14,25.9, 0.15,25.1, 0.16,26.1, 0.17,25.2, 0.18,26.3, 0.19,25.3, 0.2,26.5, 0.212,25.6, 0.224,26.7, 0.236,25.8, 0.248,27.1, 0.26,26.2, 0.272,27.3, 0.284,26.5, 0.296,27.6, 0.308,26.7, 0.32,27.8, 0.332,27.0, 0.344,28.1, 0.356,27.2, 0.368,28.4, 0.38,27.5, 0.392,28.6, 0.404,27.6, 0.416,28.7, 0.428,27.7, 0.44,28.9, 0.452,27.8, 0.464,29.0, 0.476,28.0, 0.488,28.9, 0.5,28.1, 0.512,28.5, 0.522,27.6, 0.53,26.6, 0.534,24.1, 0.537,17.7, 0.539,3.9],
  [0.004,2.5, 0.008,5.8, 0.012,9.6, 0.016,13.7, 0.02,17.7, 0.025,21.3, 0.03,24.1, 0.035,25.8, 0.04,27.2, 0.046,26.1, 0.052,25.3, 0.059,26.2, 0.066,25.1, 0.074,26.1, 0.082,25.2, 0.09,26.2, 0.098,25.3, 0.106,26.3, 0.114,25.4, 0.122,26.5, 0.13,25.6, 0.14,26.6, 0.15,25.8, 0.16,26.8, 0.17,25.9, 0.18,27.0, 0.19,26.1, 0.2,27.1, 0.212,26.3, 0.224,27.3, 0.236,26.5, 0.248,27.6, 0.26,26.7, 0.272,27.8, 0.284,27.0, 0.296,28.1, 0.308,27.2, 0.32,28.4, 0.332,27.5, 0.344,28.6, 0.356,27.7, 0.368,28.9, 0.38,28.0, 0.392,29.1, 0.404,28.1, 0.416,29.4, 0.428,28.4, 0.44,29.6, 0.452,28.6, 0.464,29.5, 0.476,28.7, 0.488,29.4, 0.5,28.6, 0.512,28.9, 0.524,27.8, 0.534,26.8, 0.54,25.3, 0.545,23.5, 0.548,21.5, 0.549,5.6],
  [0.005,2.3, 0.009,5.3, 0.013,9.1, 0.017,13.2, 0.022,17.5, 0.027,21.0, 0.032,23.5, 0.038,25.1, 0.044,26.3, 0.05,25.6, 0.057,26.5, 0.064,25.4, 0.072,26.3, 0.08,25.6, 0.088,26.6, 0.096,25.7, 0.104,26.7, 0.112,25.8, 0.12,26.8, 0.13,26.1, 0.14,27.1, 0.15,26.2, 0.16,27.2, 0.17,26.5, 0.18,27.5, 0.19,26.6, 0.2,27.6, 0.212,26.8, 0.224,27.8, 0.236,27.1, 0.248,28.1, 0.26,27.3, 0.272,28.4, 0.284,27.6, 0.296,28.6, 0.308,27.8, 0.32,29.0, 0.332,28.1, 0.344,29.2, 0.356,28.4, 0.368,29.5, 0.38,28.6, 0.392,29.7, 0.404,28.9, 0.416,29.9, 0.428,29.1, 0.44,30.1, 0.452,29.2, 0.464,30.0, 0.476,29.4, 0.488,29.9, 0.5,29.1, 0.512,29.4, 0.524,28.4, 0.536,27.6, 0.546,26.8, 0.553,24.8, 0.559,22.3, 0.564,20.0, 0.568,17.7, 0.57,5.7],
  [0.003,2.0, 0.006,4.6, 0.01,7.6, 0.014,11.1, 0.018,14.9, 0.023,18.7, 0.028,22.0, 0.034,24.3, 0.04,25.6, 0.046,25.1, 0.053,25.8, 0.06,24.9, 0.068,25.9, 0.076,25.1, 0.084,26.1, 0.092,25.3, 0.1,26.3, 0.108,25.4, 0.116,26.5, 0.124,25.7, 0.132,26.7, 0.14,25.8, 0.15,26.8, 0.16,26.1, 0.17,27.1, 0.18,26.3, 0.19,27.3, 0.2,26.5, 0.212,27.5, 0.224,26.7, 0.236,27.7, 0.248,27.0, 0.26,28.0, 0.272,27.2, 0.284,28.2, 0.296,27.5, 0.308,28.5, 0.32,27.7, 0.332,28.7, 0.344,27.8, 0.356,28.9, 0.368,28.1, 0.38,29.1, 0.392,28.2, 0.404,29.2, 0.416,28.4, 0.428,29.4, 0.44,28.5, 0.452,29.1, 0.464,28.4, 0.476,29.0, 0.488,28.2, 0.5,28.7, 0.512,27.8, 0.524,28.1, 0.536,27.3, 0.548,27.7, 0.556,27.1, 0.564,27.6, 0.571,27.1, 0.579,24.8, 0.586,24.1, 0.591,22.8, 0.593,3.6]
];
const dFits = [
  [0, 0, 0.011, 30.2, 0.172, 30.2, 0.179, 0],
  [0, 0, 0.012, 28.6, 0.261, 28.6, 0.268, 0],
  [0.006, 0, 0.034, 25.7, 0.545, 25.7, 0.56, 0]
];

// (e) traction, 0.3 mm
const eRed = [
  [0.002,7.2, 0.004,16.9, 0.007,24.1, 0.011,27.2, 0.015,28.2, 0.019,28.8, 0.023,28.0, 0.027,27.0, 0.032,26.5, 0.038,27.2, 0.044,26.7, 0.05,27.7, 0.056,27.3, 0.062,28.7, 0.068,28.2, 0.074,29.6, 0.08,28.9, 0.086,30.5, 0.092,29.6, 0.098,30.8, 0.104,30.0, 0.11,30.6, 0.116,31.1, 0.121,31.5, 0.126,30.8, 0.131,30.1, 0.136,29.9, 0.141,29.2, 0.145,28.4, 0.147,21.7, 0.148,0],
  [0.003,6.0, 0.005,15.7, 0.008,23.6, 0.012,26.5, 0.017,27.5, 0.022,26.7, 0.028,26.0, 0.034,26.5, 0.04,26.0, 0.046,26.7, 0.052,26.3, 0.058,27.2, 0.064,26.7, 0.07,28.0, 0.076,27.2, 0.082,28.9, 0.088,28.2, 0.094,29.9, 0.1,28.9, 0.106,30.1, 0.112,29.4, 0.118,30.4, 0.124,29.6, 0.13,29.2, 0.136,28.7, 0.142,28.2, 0.147,27.7, 0.15,26.5, 0.152,1.2],
  [0.003,4.8, 0.006,14.5, 0.009,22.9, 0.013,26.0, 0.018,26.5, 0.024,25.8, 0.03,25.3, 0.037,26.0, 0.044,25.5, 0.051,26.3, 0.058,25.8, 0.065,26.5, 0.072,26.0, 0.079,26.6, 0.086,26.1, 0.093,26.7, 0.1,26.3, 0.107,26.9, 0.114,26.4, 0.121,27.0, 0.128,26.5, 0.135,27.2, 0.142,26.7, 0.149,27.3, 0.156,27.0, 0.163,27.6, 0.17,27.1, 0.176,28.0, 0.182,27.0, 0.188,26.5, 0.194,26.0, 0.2,25.3, 0.205,22.9, 0.208,21.7, 0.21,2.4],
  [0.004,3.6, 0.007,12.0, 0.01,20.5, 0.014,24.6, 0.019,25.5, 0.025,25.1, 0.031,25.5, 0.038,25.2, 0.045,25.7, 0.052,25.3, 0.06,25.8, 0.068,25.4, 0.076,25.9, 0.084,25.5, 0.092,26.0, 0.1,25.7, 0.108,26.1, 0.116,25.8, 0.124,26.3, 0.132,25.9, 0.14,26.4, 0.148,26.0, 0.156,26.5, 0.164,26.1, 0.172,26.5, 0.18,26.3, 0.188,26.6, 0.196,26.1, 0.204,25.5, 0.212,24.1, 0.218,22.2, 0.224,21.0, 0.23,20.5, 0.233,14.5, 0.235,2.7]
];
const eBlue = [
  [0.004,4.8, 0.007,14.5, 0.01,21.7, 0.014,26.0, 0.019,27.0, 0.025,27.7, 0.031,26.9, 0.038,27.5, 0.045,27.0, 0.052,27.6, 0.059,27.1, 0.066,27.8, 0.073,27.3, 0.08,28.1, 0.087,27.6, 0.094,28.3, 0.101,27.8, 0.108,28.6, 0.115,28.1, 0.122,28.8, 0.129,28.3, 0.136,29.0, 0.143,28.6, 0.15,29.2, 0.157,28.8, 0.164,29.4, 0.171,28.9, 0.178,29.5, 0.185,29.2, 0.192,29.8, 0.199,29.4, 0.205,30.5, 0.211,29.6, 0.217,28.9, 0.222,27.0, 0.227,24.6, 0.23,22.9, 0.231,0.5],
  [0.005,3.6, 0.008,12.0, 0.012,20.5, 0.016,25.1, 0.022,26.5, 0.028,27.2, 0.034,26.5, 0.041,27.1, 0.048,26.6, 0.055,27.2, 0.062,26.7, 0.069,27.5, 0.076,27.0, 0.083,27.7, 0.09,27.2, 0.097,28.0, 0.104,27.5, 0.111,28.2, 0.118,27.7, 0.125,28.4, 0.132,28.0, 0.139,28.6, 0.146,28.2, 0.153,28.8, 0.16,28.4, 0.167,28.9, 0.174,28.6, 0.181,29.2, 0.188,28.8, 0.195,29.3, 0.202,28.9, 0.209,29.5, 0.216,29.2, 0.223,29.3, 0.23,28.6, 0.236,28.9, 0.242,27.7, 0.247,26.0, 0.25,24.1, 0.252,22.9, 0.253,2.4],
  [0.006,2.9, 0.01,10.8, 0.014,19.3, 0.018,23.6, 0.024,24.3, 0.03,23.9, 0.037,24.2, 0.044,23.1, 0.051,23.9, 0.058,23.0, 0.065,23.7, 0.072,23.1, 0.079,23.9, 0.086,23.3, 0.093,24.0, 0.1,23.4, 0.108,24.1, 0.116,23.5, 0.124,24.2, 0.132,23.7, 0.14,24.5, 0.148,24.0, 0.156,24.6, 0.164,24.1, 0.172,24.8, 0.18,24.3, 0.188,25.1, 0.196,24.6, 0.204,25.3, 0.212,24.9, 0.22,25.5, 0.228,25.1, 0.236,25.3, 0.244,24.6, 0.25,23.9, 0.255,22.9, 0.257,2.4],
  [0.005,4.3, 0.008,13.3, 0.011,21.2, 0.015,25.3, 0.02,26.3, 0.026,25.8, 0.033,26.4, 0.04,25.9, 0.047,26.5, 0.054,26.0, 0.061,26.7, 0.068,26.3, 0.075,27.0, 0.082,26.5, 0.089,27.2, 0.096,26.7, 0.103,27.5, 0.11,27.0, 0.117,27.7, 0.124,27.2, 0.131,28.0, 0.138,27.5, 0.145,28.2, 0.152,27.7, 0.159,28.4, 0.166,28.0, 0.173,28.7, 0.18,28.3, 0.187,28.9, 0.194,28.6, 0.201,28.9, 0.208,28.3, 0.215,28.2, 0.222,27.7, 0.23,27.2, 0.238,27.0, 0.246,26.6, 0.252,26.0, 0.258,24.8, 0.264,23.5, 0.27,23.1, 0.275,22.4, 0.278,21.8, 0.282,22.3, 0.288,21.6, 0.294,20.5, 0.3,19.0, 0.306,16.6, 0.31,14.2, 0.316,13.0, 0.322,12.4, 0.328,11.6, 0.334,10.7, 0.342,9.6, 0.35,8.7, 0.359,7.8]
];
const eGreen = [
  [0.003,1.9, 0.008,6.0, 0.012,10.8, 0.016,15.7, 0.02,19.8, 0.025,22.9, 0.03,24.1, 0.036,23.9, 0.042,23.1, 0.048,24.0, 0.055,23.3, 0.062,24.1, 0.069,23.4, 0.076,24.2, 0.083,23.5, 0.09,24.3, 0.097,23.6, 0.104,24.5, 0.111,23.7, 0.118,24.6, 0.125,23.9, 0.132,24.7, 0.14,24.0, 0.148,24.8, 0.156,24.1, 0.164,24.9, 0.172,24.2, 0.18,25.1, 0.188,24.3, 0.196,25.2, 0.204,24.5, 0.212,25.3, 0.22,24.6, 0.228,25.4, 0.236,24.7, 0.244,25.5, 0.252,24.8, 0.26,25.7, 0.268,24.9, 0.276,25.8, 0.284,25.1, 0.292,25.9, 0.3,25.2, 0.308,25.8, 0.316,25.1, 0.324,25.7, 0.332,24.9, 0.34,25.3, 0.348,24.6, 0.355,24.1, 0.362,22.4, 0.368,21.0, 0.374,19.3, 0.378,14.5, 0.38,3.3],
  [0.004,2.2, 0.009,6.7, 0.013,12.0, 0.017,17.3, 0.022,21.7, 0.027,24.1, 0.032,25.1, 0.037,24.1, 0.043,24.8, 0.05,23.9, 0.057,24.7, 0.064,23.7, 0.071,24.6, 0.078,23.9, 0.085,24.7, 0.092,24.0, 0.099,24.8, 0.106,24.1, 0.113,24.9, 0.12,24.2, 0.128,25.1, 0.136,24.3, 0.144,25.2, 0.152,24.5, 0.16,25.3, 0.168,24.6, 0.176,25.4, 0.184,24.7, 0.192,25.5, 0.2,24.8, 0.208,25.7, 0.216,24.9, 0.224,25.8, 0.232,25.1, 0.24,25.9, 0.248,25.2, 0.256,26.0, 0.264,25.3, 0.272,26.1, 0.28,25.4, 0.288,26.3, 0.296,25.5, 0.304,26.4, 0.312,25.7, 0.32,26.9, 0.328,25.8, 0.336,26.0, 0.344,25.3, 0.352,25.7, 0.36,25.1, 0.368,24.8, 0.377,24.4, 0.385,22.9, 0.392,21.5, 0.396,16.9, 0.398,3.4],
  [0.005,2.4, 0.01,7.7, 0.014,13.5, 0.018,18.8, 0.023,22.7, 0.028,24.6, 0.034,24.1, 0.04,23.5, 0.047,24.2, 0.054,23.4, 0.061,24.1, 0.068,23.3, 0.075,24.0, 0.082,23.4, 0.089,24.1, 0.096,23.5, 0.103,24.2, 0.11,23.6, 0.118,24.3, 0.126,23.7, 0.134,24.5, 0.142,23.9, 0.15,24.6, 0.158,24.0, 0.166,24.7, 0.174,24.1, 0.182,24.8, 0.19,24.2, 0.198,24.9, 0.206,24.3, 0.214,25.1, 0.222,24.5, 0.23,25.2, 0.238,24.6, 0.246,25.3, 0.254,24.7, 0.262,25.4, 0.27,24.8, 0.278,25.5, 0.286,24.9, 0.294,25.7, 0.302,25.1, 0.31,25.8, 0.318,25.2, 0.326,25.9, 0.334,25.2, 0.342,25.8, 0.35,25.1, 0.358,25.5, 0.366,24.8, 0.374,25.1, 0.382,24.1, 0.39,23.1, 0.4,21.9, 0.413,19.3, 0.426,17.0, 0.434,14.5, 0.441,11.9, 0.446,10.1, 0.449,8.6, 0.449,3.6],
  [0.003,2.2, 0.007,6.3, 0.011,11.6, 0.015,16.9, 0.019,21.2, 0.024,24.1, 0.029,25.5, 0.035,24.6, 0.041,25.3, 0.048,24.3, 0.055,25.2, 0.062,24.2, 0.069,25.1, 0.076,24.3, 0.083,25.2, 0.09,24.5, 0.097,25.3, 0.104,24.6, 0.112,25.4, 0.12,24.7, 0.128,25.5, 0.136,24.8, 0.144,25.7, 0.152,24.9, 0.16,25.8, 0.168,25.1, 0.176,25.9, 0.184,25.2, 0.192,26.0, 0.2,25.3, 0.21,26.1, 0.22,25.4, 0.23,26.3, 0.24,25.5, 0.25,26.4, 0.26,25.7, 0.27,26.6, 0.28,25.8, 0.29,26.8, 0.3,25.9, 0.31,27.1, 0.32,27.6, 0.33,26.6, 0.34,25.8, 0.35,26.1, 0.36,25.5, 0.37,25.9, 0.38,25.3, 0.39,25.7, 0.4,25.2, 0.41,25.5, 0.42,25.1, 0.43,25.3, 0.44,24.8, 0.45,25.1, 0.458,24.3, 0.464,23.8, 0.475,22.8, 0.483,21.2, 0.49,19.6, 0.491,14.5, 0.492,7.3],
  [0.004,2.0, 0.008,5.8, 0.012,10.6, 0.016,15.9, 0.021,20.5, 0.026,23.6, 0.031,24.8, 0.037,24.1, 0.043,24.9, 0.05,24.0, 0.057,24.8, 0.064,24.1, 0.071,24.9, 0.078,24.2, 0.085,25.1, 0.092,24.3, 0.099,25.2, 0.106,24.5, 0.114,25.3, 0.122,24.6, 0.13,25.4, 0.138,24.7, 0.146,25.5, 0.154,24.8, 0.162,25.7, 0.17,24.9, 0.178,25.8, 0.186,25.1, 0.194,25.9, 0.202,25.2, 0.212,26.0, 0.222,25.3, 0.232,26.1, 0.242,25.4, 0.252,26.3, 0.262,25.5, 0.272,26.5, 0.282,25.7, 0.292,26.4, 0.302,25.5, 0.312,26.0, 0.322,25.4, 0.332,25.9, 0.342,25.3, 0.352,25.8, 0.362,25.2, 0.372,25.7, 0.382,25.1, 0.392,25.5, 0.402,24.9, 0.412,25.4, 0.422,24.9, 0.432,25.3, 0.442,24.8, 0.452,25.2, 0.462,24.7, 0.47,24.6, 0.475,24.1, 0.482,23.6, 0.49,23.2, 0.498,21.7, 0.505,19.9, 0.513,16.7, 0.515,12.0, 0.517,7.0]
];
const eFits = [
  [0, 0, 0.0104, 27.0, 0.188, 27.0, 0.194, 0],
  [0.003, 0, 0.0194, 26.7, 0.249, 26.7, 0.274, 0],
  [0.0055, 0, 0.031, 24.8, 0.424, 24.8, 0.461, 0]
];

// (f) traction, 0.64 mm
const fRed = [
  [0.001,5.9, 0.0027,3.7, 0.003,10.6, 0.0055,8.5, 0.0065,14.1, 0.0055,19.5, 0.0078,23.5, 0.0075,27.3, 0.0094,30.8, 0.0103,33.6, 0.0122,35.3, 0.0151,35.8, 0.02,35.4, 0.022,34.4, 0.0258,33.3, 0.03,33.5, 0.0354,32.9, 0.041,33.1, 0.0469,32.8, 0.053,33.0, 0.058,32.8, 0.0622,33.0, 0.066,32.1, 0.0699,31.6, 0.0737,29.5, 0.0756,27.9, 0.0773,27.6, 0.0792,0.5],
  [0.002,2.8, 0.004,4.7, 0.005,9.9, 0.004,13.2, 0.0065,17.9, 0.006,22.4, 0.0085,25.9, 0.008,29.4, 0.0105,31.8, 0.012,32.5, 0.014,31.3, 0.016,33.4, 0.018,32.7, 0.0215,32.0, 0.024,32.9, 0.028,32.5, 0.032,33.2, 0.036,32.7, 0.04,32.6, 0.045,32.2, 0.05,32.5, 0.055,32.0, 0.062,33.0, 0.0677,32.4, 0.0725,30.5, 0.0754,28.0, 0.078,27.5, 0.081,27.4, 0.083,26.7, 0.0865,1.3],
  [0.003,2.4, 0.004,5.9, 0.006,7.8, 0.005,11.8, 0.007,16.5, 0.0065,20.7, 0.009,23.5, 0.0085,27.1, 0.0105,30.1, 0.013,31.5, 0.0155,30.6, 0.018,31.8, 0.021,31.3, 0.025,32.0, 0.029,31.5, 0.033,32.2, 0.037,31.3, 0.041,30.6, 0.045,30.1, 0.049,30.6, 0.053,29.4, 0.057,28.9, 0.0639,27.3, 0.0677,26.1, 0.0697,25.4, 0.0745,0.5],
  [0.002,4.2, 0.0035,2.4, 0.005,7.1, 0.0045,11.1, 0.0065,14.6, 0.0075,20.0, 0.0095,24.7, 0.0095,28.2, 0.012,30.4, 0.014,31.8, 0.0165,31.1, 0.019,30.6, 0.0215,30.1, 0.0237,29.9, 0.0265,29.6, 0.0295,30.2, 0.034,29.4, 0.039,28.9, 0.0448,28.3, 0.049,28.1, 0.0524,28.0, 0.058,28.0, 0.0607,27.9, 0.0607,0.1]
];
const fBlue = [
  [0.002,2.8, 0.004,4.7, 0.0065,2.1, 0.007,9.4, 0.0084,14.7, 0.0065,20.4, 0.0095,22.4, 0.0122,23.6, 0.0103,26.7, 0.0142,28.0, 0.0151,31.7, 0.0125,32.9, 0.016,33.4, 0.0199,34.3, 0.025,34.1, 0.03,34.2, 0.0371,34.0, 0.0448,33.6, 0.05,33.4, 0.056,32.9, 0.062,32.7, 0.0715,31.7, 0.0792,30.5, 0.0821,29.2, 0.0846,0.4],
  [0.003,3.1, 0.005,7.1, 0.0105,4.9, 0.006,5.2, 0.0075,11.8, 0.009,16.5, 0.008,21.2, 0.0105,24.7, 0.0095,27.1, 0.011,30.6, 0.0122,33.0, 0.018,33.2, 0.0256,33.6, 0.0295,32.4, 0.035,32.5, 0.04,32.1, 0.0448,32.0, 0.0543,32.5, 0.0639,31.7, 0.0715,30.8, 0.0754,29.9, 0.0775,29.4, 0.0788,0.5],
  [0.004,3.5, 0.006,8.2, 0.0075,14.1, 0.0065,17.6, 0.009,20.0, 0.0085,23.5, 0.011,25.9, 0.0125,29.4, 0.0142,32.0, 0.0199,32.7, 0.0245,32.9, 0.0295,33.3, 0.037,32.7, 0.0486,32.4, 0.0562,32.0, 0.0591,31.1, 0.0615,30.1, 0.066,0]
];
const fGreen = [
  [0.0017,2.4, 0.0046,5.3, 0.0055,8.4, 0.0065,13.2, 0.0075,17.9, 0.0065,21.0, 0.0084,24.2, 0.0103,27.3, 0.0113,31.7, 0.0125,31.4, 0.0113,29.9, 0.016,29.6, 0.0218,29.4, 0.0275,29.4, 0.0333,29.2, 0.039,29.1, 0.0448,28.9, 0.054,28.6, 0.0639,28.3, 0.072,28.4, 0.083,28.0, 0.0926,27.6, 0.102,28.0, 0.11,27.3, 0.1137,25.7, 0.1204,2.8],
  [0.0027,2.4, 0.0055,5.3, 0.0065,11.6, 0.0094,16.0, 0.0122,17.9, 0.0151,20.4, 0.018,22.3, 0.0199,24.2, 0.0237,26.4, 0.0276,28.0, 0.0333,28.9, 0.0448,29.2, 0.055,28.8, 0.0639,28.9, 0.072,28.5, 0.083,28.6, 0.0984,28.3, 0.105,27.8, 0.11,27.0, 0.116,26.1, 0.1214,25.4, 0.1232,24.2, 0.1242,23.6, 0.1324,2.4],
  [0.003,2.1, 0.0045,5.9, 0.0055,9.4, 0.007,13.2, 0.0085,16.5, 0.011,18.8, 0.0125,21.2, 0.0145,23.1, 0.017,25.4, 0.0215,27.1, 0.027,28.2, 0.033,29.1, 0.04,28.7, 0.048,29.2, 0.056,28.6, 0.064,28.8, 0.072,28.2, 0.08,28.4, 0.088,28.0, 0.095,28.5, 0.1025,28.2, 0.1117,28.0, 0.1232,27.0, 0.1328,25.7, 0.1404,23.9, 0.1414,21.8, 0.1427,1.8],
  [0.004,2.6, 0.005,7.1, 0.0065,10.6, 0.008,14.6, 0.01,16.9, 0.0125,20.0, 0.015,22.4, 0.0175,24.7, 0.021,25.9, 0.025,27.5, 0.03,28.2, 0.036,28.6, 0.043,28.4, 0.05,28.8, 0.058,28.5, 0.066,28.2, 0.074,28.0, 0.082,27.8, 0.09,27.1, 0.096,27.3, 0.103,27.9, 0.11,27.6, 0.116,26.8, 0.122,26.1, 0.128,24.9, 0.1335,23.3, 0.1376,22.3, 0.1362,3.4]
];
const fFits = [
  [0, 0, 0.0123, 30.5, 0.0725, 30.5, 0.0778, 0],
  [0.0004, 0, 0.0141, 31.8, 0.0787, 31.8, 0.0845, 0],
  [0.0012, 0, 0.0201, 28.1, 0.1218, 28.1, 0.1412, 0]
];

// ---------- drawing ----------
const FONT = '"Liberation Sans", Arial, sans-serif';
Chart.defaults.font.family = FONT;

function toPoints(flat) {
  const out = [];
  for (let i = 0; i < flat.length; i += 2) out.push({ x: flat[i], y: flat[i + 1] });
  return out;
}

function testSets(curves, color, order) {
  return curves.map(c => ({
    data: toPoints(c), borderColor: color, backgroundColor: color, borderWidth: 3,
    showLine: true, pointRadius: 0, fill: false, order,
    borderJoinStyle: 'round', borderCapStyle: 'round'
  }));
}

function fitSets(list) {
  const out = [];
  list.forEach((f, i) => {
    out.push({ data: toPoints(f), borderColor: seriesColors[i], borderWidth: 8, showLine: true,
      pointRadius: 0, fill: false, order: 1, borderJoinStyle: 'round', borderCapStyle: 'round' });
    out.push({ data: toPoints(f), borderColor: '#000', borderWidth: 3.6, showLine: true,
      pointRadius: 0, fill: false, order: 0, borderJoinStyle: 'miter', borderCapStyle: 'butt' });
  });
  return out;
}

const panels = [
  { box: [123, 389, 25, 425], yTitleX: 43, xTitleY: 479, xMax: 0.6, xTicks: sepTicksWide, yMax: 1600, yTicks: forceTicks, yTitle: 'Force [N]', red: aRed, blue: aBlue, green: aGreen },
  { box: [537, 803, 24, 422], yTitleX: 457, xTitleY: 475, xMax: 0.6, xTicks: sepTicksWide, yMax: 1600, yTicks: forceTicks, yTitle: 'Force [N]', red: bRed, blue: bBlue, green: bGreen },
  { box: [950, 1211, 24, 422], yTitleX: 871, xTitleY: 475, xMax: 0.15, xTicks: sepTicksNarrow, yMax: 1600, yTicks: forceTicks, yTitle: 'Force [N]', red: cRed, blue: cBlue, green: cGreen },
  { box: [100, 389, 530, 924], yTitleX: 43, xTitleY: 977, xMax: 0.6, xTicks: sepTicksWide, yMax: 40, yTicks: tractionTicks, yTitle: 'Traction [MPa]', red: dRed, blue: dBlue, green: dGreen, fits: dFits },
  { box: [514, 803, 530, 921], yTitleX: 457, xTitleY: 975, xMax: 0.6, xTicks: sepTicksWide, yMax: 40, yTicks: tractionTicks, yTitle: 'Traction [MPa]', red: eRed, blue: eBlue, green: eGreen, fits: eFits },
  { box: [927, 1211, 530, 921], yTitleX: 871, xTitleY: 975, xMax: 0.15, xTicks: sepTicksNarrow, yMax: 40, yTicks: tractionTicks, yTitle: 'Traction [MPa]', red: fRed, blue: fBlue, green: fGreen, fits: fFits }
];

const PAD_TOP = 15, PAD_RIGHT = 22, HALF_TITLE = 12;
const tickFont = { family: FONT, size: 20 };
const titleFont = { family: FONT, size: 20, weight: 'bold', lineHeight: 1.2 };

panels.forEach(p => {
  const [L, R, T, B] = p.box;
  const left = p.yTitleX - HALF_TITLE;
  const top = T - PAD_TOP;
  const width = R + PAD_RIGHT - left;
  const height = p.xTitleY + HALF_TITLE - top;
  const yW = L - left;
  const xH = p.xTitleY + HALF_TITLE - B;

  const cv = document.createElement('canvas');
  cv.width = width; cv.height = height;
  cv.style.left = left + 'px'; cv.style.top = top + 'px';
  cv.style.width = width + 'px'; cv.style.height = height + 'px';
  document.body.appendChild(cv);

  let datasets = [];
  if (p.fits) datasets = datasets.concat(fitSets(p.fits));
  datasets = datasets.concat(testSets(p.red, seriesColors[0], 2));
  datasets = datasets.concat(testSets(p.blue, seriesColors[1], 3));
  datasets = datasets.concat(testSets(p.green, seriesColors[2], 4));

  new Chart(cv, {
    type: 'scatter',
    data: { datasets },
    options: {
      responsive: false, animation: false, devicePixelRatio: 1, events: [],
      layout: { padding: { left: 0, top: PAD_TOP, right: PAD_RIGHT, bottom: 0 }, autoPadding: false },
      plugins: { legend: { display: false }, tooltip: { enabled: false } },
      scales: {
        x: {
          type: 'linear', min: 0, max: p.xMax,
          afterBuildTicks: s => { s.ticks = p.xTicks.map(v => ({ value: v })); },
          afterFit: s => { s.height = xH; s.paddingLeft = 4; s.paddingRight = 14; },
          ticks: { font: tickFont, color: '#000', padding: 13, maxRotation: 0, autoSkip: false, callback: v => String(v) },
          grid: { color: '#d9d9d9', lineWidth: 1.3, drawTicks: false },
          border: { color: '#000', width: 1.3 },
          title: { display: true, text: 'Separation [mm]', font: titleFont, color: '#000', padding: 0 }
        },
        y: {
          type: 'linear', min: 0, max: p.yMax,
          afterBuildTicks: s => { s.ticks = p.yTicks.map(v => ({ value: v })); },
          afterFit: s => { s.width = yW; s.paddingTop = 12; s.paddingBottom = 12; },
          ticks: { font: tickFont, color: '#000', padding: 18, autoSkip: false, callback: v => String(v) },
          grid: { color: '#d9d9d9', lineWidth: 1.3, drawTicks: false },
          border: { color: '#000', width: 1.3 },
          title: { display: true, text: p.yTitle, font: titleFont, color: '#000', padding: 0 }
        }
      }
    }
  });
});

// ---------- panel letters ----------
const panelTags = [
  { t: 'a', x: 13, y: 449, w: 44, h: 56, fs: 42 },
  { t: 'b', x: 426, y: 447, w: 44, h: 55, fs: 42 },
  { t: 'c', x: 838, y: 441, w: 43, h: 56, fs: 38 },
  { t: 'd', x: 13, y: 955, w: 44, h: 55, fs: 38 },
  { t: 'e', x: 426, y: 946, w: 44, h: 55, fs: 40 },
  { t: 'f', x: 838, y: 940, w: 43, h: 56, fs: 38 }
];
panelTags.forEach(g => {
  const d = document.createElement('div');
  d.className = 'tag';
  d.style.left = g.x + 'px'; d.style.top = g.y + 'px';
  d.style.width = g.w + 'px'; d.style.height = g.h + 'px';
  d.style.fontSize = g.fs + 'px';
  d.textContent = g.t;
  document.body.appendChild(d);
});

// ---------- legend (panel f) ----------
const legend = document.createElement('div');
legend.className = 'legend';
Object.assign(legend.style, { left: '1020px', top: '761px', width: '185px', height: '122px' });
const rowTops = [1, 21, 41, 61.5, 81, 101];
seriesLabels.forEach((label, i) => {
  const row = document.createElement('div');
  row.className = 'row';
  row.style.top = rowTops[i] + 'px';
  const color = seriesColors[i % 3];
  if (i < 3) {
    const sw = document.createElement('div');
    sw.className = 'thin'; sw.style.background = color;
    row.appendChild(sw);
  } else {
    const sw = document.createElement('div');
    sw.className = 'thick'; sw.style.background = color;
    const core = document.createElement('div');
    core.className = 'core';
    sw.appendChild(core);
    row.appendChild(sw);
  }
  const tx = document.createElement('div');
  tx.className = 'txt';
  tx.style.left = (i < 3 ? 53 : 59) + 'px';
  tx.textContent = label;
  row.appendChild(tx);
  legend.appendChild(row);
});
document.body.appendChild(legend);
</script>
</body>
</html>
